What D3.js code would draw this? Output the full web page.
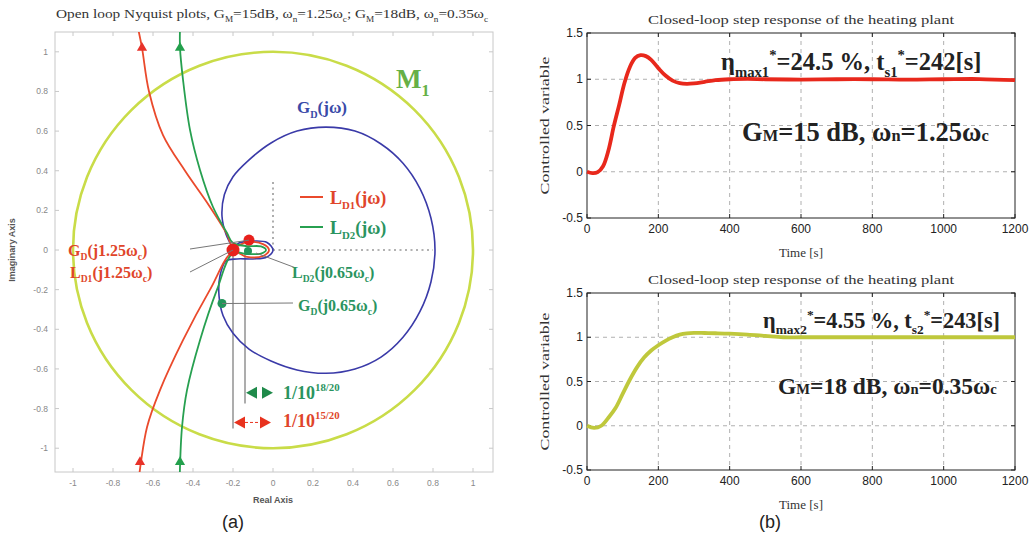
<!DOCTYPE html>
<html><head><meta charset="utf-8">
<script src="https://cdn.jsdelivr.net/npm/d3@7"></script>
<style>body{margin:0;background:#fff}svg{display:block}</style>
</head><body><svg id="c" width="1035" height="537"></svg>
<script>
// ---------------- DATA ----------------
const nyqTicks = [-1,-0.8,-0.6,-0.4,-0.2,0,0.2,0.4,0.6,0.8,1];
const stepXTicks = [0,200,400,600,800,1000,1200];
const stepYTicks = [-0.5,0,0.5,1,1.5];

// M1 circle: centre and radius (Nyquist plane units)
const m1Circle = {re:0, im:0, r:1};

// G_D(jω) open-loop curve [re, im]
const gdCurve = [[-0.2,0.01],[-0.235,0.08],[-0.255,0.17],[-0.243,0.28],[-0.2,0.37],[-0.125,0.45],[-0.01,0.54],
  [0.12,0.6],[0.265,0.62],[0.41,0.6],[0.54,0.535],[0.65,0.438],[0.735,0.31],[0.79,0.16],[0.81,0],
  [0.79,-0.16],[0.735,-0.31],[0.65,-0.44],[0.54,-0.54],[0.41,-0.6],[0.265,-0.622],[0.12,-0.605],
  [-0.01,-0.56],[-0.12,-0.5],[-0.2,-0.42],[-0.25,-0.33],[-0.27,-0.23],[-0.265,-0.13],[-0.235,-0.055],
  [-0.18,-0.045],[-0.1,-0.045],[-0.03,-0.035],[0.0,0],[-0.03,0.038],[-0.1,0.045],[-0.17,0.035],[-0.2,0.01]];

// L_D1(jω)
const ld1Curve = [[-0.675,1.12],[-0.655,1.02],[-0.62,0.8],[-0.55,0.58],[-0.44,0.4],[-0.32,0.225],[-0.23,0.08],
  [-0.2,0.015],[-0.13,0.04],[-0.05,0.03],[-0.02,0],[-0.05,-0.03],[-0.13,-0.035],[-0.2,-0.01],
  [-0.315,-0.2],[-0.45,-0.455],[-0.565,-0.707],[-0.63,-0.894],[-0.668,-1.13]];

// L_D2(jω)
const ld2Curve = [[-0.465,1.12],[-0.465,1.02],[-0.45,0.86],[-0.415,0.606],[-0.365,0.404],[-0.3,0.217],[-0.23,0.086],
  [-0.2,0.035],[-0.13,0.02],[-0.06,0.018],[-0.035,0],[-0.06,-0.018],[-0.13,-0.02],[-0.2,-0.015],
  [-0.28,-0.2],[-0.365,-0.455],[-0.43,-0.707],[-0.455,-0.894],[-0.466,-1.13]];

// direction arrows on L curves [re, im]
const ld1Arrows = [[-0.655,1.02],[-0.665,-1.07]];
const ld2Arrows = [[-0.465,1.02],[-0.465,-1.07]];

// marked frequency points
const redPoints = [{re:-0.2, im:0.0, r:6.5},{re:-0.12, im:0.05, r:5.5}];
const greenPoints = [{re:-0.255, im:-0.27, r:4.5},{re:-0.125, im:-0.005, r:4}];

// gain-margin markers: vertical guide position and bottom
const gm1 = {re:-0.2, bottom:-0.9, arrowIm:-0.87};
const gm2 = {re:-0.14, bottom:-0.775, arrowIm:-0.72};

// Step responses
const stepTime1 = [0,15,30,45,60,75,90,105,120,135,150,165,180,200,220,240,260,280,300,330,360,400,450,500,600,700,800,900,1000,1100,1200];
const resp1 =     [0,-0.015,-0.005,0.06,0.23,0.49,0.72,0.96,1.13,1.23,1.26,1.25,1.21,1.12,1.04,0.985,0.957,0.95,0.955,0.972,0.99,1.0,1.003,1.0,0.997,1.0,1.0,0.996,1.0,1.002,0.99];
const stepTime2 = [0,20,40,60,80,100,120,140,160,180,200,220,240,260,280,300,330,360,400,450,500,550,600,700,800,900,1000,1100,1200];
const resp2 =     [0,-0.025,0.0,0.09,0.2,0.36,0.52,0.66,0.77,0.85,0.91,0.96,1.0,1.03,1.045,1.05,1.048,1.045,1.04,1.03,1.015,1.0,1.0,1.0,1.0,1.0,1.0,1.0,1.0];

// ---------------- HELPERS ----------------
const svg = d3.select("#c");
function rich(g, x, y, parts, size, attrs={}) {
  const t = g.append("text").attr("x",x).attr("y",y).attr("font-size",size);
  Object.entries(attrs).forEach(([k,v])=>t.attr(k,v));
  let off = 0;
  parts.forEach(([s,k])=>{
    const target = k==="sub" ? size*0.28 : k==="sup" ? -size*0.42 : 0;
    const ts = t.append("tspan").text(s).attr("dy", target-off);
    if (k) ts.attr("font-size", size*(k==="sc"?0.62:0.6));
    off = target;
  });
  return t;
}
const SERIF = "'Liberation Serif','DejaVu Serif',serif";
const SANS = "'Liberation Sans',Arial,sans-serif";

// ---------------- LEFT: NYQUIST ----------------
const xN = d3.scaleLinear().domain([-1.09,1.1]).range([55,493]);
const yN = d3.scaleLinear().domain([-1.12,1.1]).range([472,32]);
const gL = svg.append("g");

rich(gL, 56, 18, [["Open loop Nyquist plots, G",""],["M","sub"],["=15dB, ω",""],["n","sub"],["=1.25ω",""],["c","sub"],
  ["; G",""],["M","sub"],["=18dB, ω",""],["n","sub"],["=0.35ω",""],["c","sub"]], 13.5,
  {"font-family":SERIF, fill:"#333", textLength:432, lengthAdjust:"spacingAndGlyphs"});

const clipId = "nclip";
svg.append("defs").append("clipPath").attr("id",clipId).append("rect")
  .attr("x",55).attr("y",32).attr("width",438).attr("height",440);

gL.append("rect").attr("x",55).attr("y",32).attr("width",438).attr("height",440)
  .attr("fill","none").attr("stroke","#c8c8c8").attr("stroke-width",1);
nyqTicks.forEach(v=>{
  gL.append("line").attr("x1",xN(v)).attr("x2",xN(v)).attr("y1",472).attr("y2",468).attr("stroke","#c8c8c8");
  gL.append("line").attr("x1",xN(v)).attr("x2",xN(v)).attr("y1",32).attr("y2",36).attr("stroke","#c8c8c8");
  gL.append("line").attr("y1",yN(v)).attr("y2",yN(v)).attr("x1",55).attr("x2",59).attr("stroke","#c8c8c8");
  gL.append("line").attr("y1",yN(v)).attr("y2",yN(v)).attr("x1",493).attr("x2",489).attr("stroke","#c8c8c8");
});
const fmtN = d=>String(+d.toFixed(1));
gL.selectAll(".xt").data(nyqTicks).join("text").attr("x",d=>xN(d)).attr("y",486)
  .attr("text-anchor","middle").attr("font-size",8.5).attr("font-family",SANS).attr("fill","#888").text(fmtN);
gL.selectAll(".yt").data(nyqTicks).join("text").attr("x",48).attr("y",d=>yN(d)+3)
  .attr("text-anchor","end").attr("font-size",8.5).attr("font-family",SANS).attr("fill","#888").text(fmtN);
gL.append("text").attr("transform","translate(15,250) rotate(-90)").attr("text-anchor","middle")
  .attr("font-size",9).attr("font-weight","bold").attr("font-family",SANS).attr("fill","#555").text("Imaginary Axis");
gL.append("text").attr("x",273).attr("y",503).attr("text-anchor","middle")
  .attr("font-size",9).attr("font-weight","bold").attr("font-family",SANS).attr("fill","#555").text("Real Axis");

const plot = gL.append("g").attr("clip-path",`url(#${clipId})`);
plot.append("ellipse").attr("cx",xN(m1Circle.re)).attr("cy",yN(m1Circle.im))
  .attr("rx",xN(m1Circle.r)-xN(0)).attr("ry",yN(0)-yN(m1Circle.r))
  .attr("fill","none").attr("stroke","#c9dc48").attr("stroke-width",2.6);

plot.append("line").attr("x1",xN(0)).attr("x2",xN(0.8)).attr("y1",yN(0)).attr("y2",yN(0))
  .attr("stroke","#999").attr("stroke-width",1.6).attr("stroke-dasharray","2,3.5");
plot.append("line").attr("x1",xN(0)).attr("x2",xN(0)).attr("y1",yN(0)).attr("y2",yN(0.36))
  .attr("stroke","#999").attr("stroke-width",1.6).attr("stroke-dasharray","2,3.5");

[gm1,gm2].forEach(g=>{
  plot.append("line").attr("x1",xN(g.re)).attr("x2",xN(g.re)).attr("y1",yN(0)).attr("y2",yN(g.bottom))
    .attr("stroke","#999").attr("stroke-width",1.6);
});

const lineN = d3.line().x(d=>xN(d[0])).y(d=>yN(d[1])).curve(d3.curveCatmullRom.alpha(0.5));
plot.append("path").attr("d",lineN(gdCurve)).attr("fill","none").attr("stroke","#3a3aa8").attr("stroke-width",1.6);
plot.append("path").attr("d",lineN(ld1Curve)).attr("fill","none").attr("stroke","#ea4a2c").attr("stroke-width",1.8);
plot.append("path").attr("d",lineN(ld2Curve)).attr("fill","none").attr("stroke","#27a050").attr("stroke-width",1.8);

const tri = d3.symbol(d3.symbolTriangle, 45);
ld1Arrows.forEach(p=>plot.append("path").attr("d",tri()).attr("transform",`translate(${xN(p[0])},${yN(p[1])})`).attr("fill","#e8322a"));
ld2Arrows.forEach(p=>plot.append("path").attr("d",tri()).attr("transform",`translate(${xN(p[0])},${yN(p[1])})`).attr("fill","#23a04c"));

const lead = (x1,y1,x2,y2)=>gL.append("line").attr("x1",x1).attr("y1",y1).attr("x2",x2).attr("y2",y2)
  .attr("stroke","#777").attr("stroke-width",1);
lead(190,249,xN(redPoints[1].re),yN(redPoints[1].im));
lead(190,272,xN(redPoints[0].re),yN(redPoints[0].im));
lead(296,268,xN(greenPoints[1].re)+8,yN(greenPoints[1].im)+2);
lead(293,303,xN(greenPoints[0].re),yN(greenPoints[0].im));

redPoints.forEach(p=>plot.append("circle").attr("cx",xN(p.re)).attr("cy",yN(p.im)).attr("r",p.r).attr("fill","#e8201c"));
greenPoints.forEach(p=>plot.append("circle").attr("cx",xN(p.re)).attr("cy",yN(p.im)).attr("r",p.r).attr("fill","#22955a"));

function dblArrow(g, x1, x2, y, col, dashed) {
  const h = 6, w = 11;
  g.append("path").attr("d",`M${x1},${y} L${x1+w},${y-h} L${x1+w},${y+h} Z`).attr("fill",col);
  g.append("path").attr("d",`M${x2},${y} L${x2-w},${y-h} L${x2-w},${y+h} Z`).attr("fill",col);
  if (dashed) g.append("line").attr("x1",x1+w).attr("x2",x2-w).attr("y1",y).attr("y2",y)
     .attr("stroke",col).attr("stroke-width",1).attr("stroke-dasharray","3,2");
}
dblArrow(gL, xN(gm2.re)+1, xN(0), yN(gm2.arrowIm), "#1f8a4a", false);
dblArrow(gL, xN(gm1.re)+1, xN(-0.01), yN(gm1.arrowIm), "#e8321e", true);

const REDL = "#e0452a", GRNL = "#2a9460";
rich(gL, 283, 399, [["1/10",""],["18/20","sup"]], 18, {"font-family":SERIF,"font-weight":"bold",fill:GRNL});
rich(gL, 283, 427, [["1/10",""],["15/20","sup"]], 18, {"font-family":SERIF,"font-weight":"bold",fill:REDL});

gL.append("line").attr("x1",300).attr("x2",323).attr("y1",197).attr("y2",197).attr("stroke","#ea4a2c").attr("stroke-width",2);
gL.append("line").attr("x1",300).attr("x2",323).attr("y1",227).attr("y2",227).attr("stroke","#27a050").attr("stroke-width",2);
rich(gL, 330, 204, [["L",""],["D1","sub"],["(jω)",""]], 18, {"font-family":SERIF,"font-weight":"bold",fill:REDL});
rich(gL, 330, 234, [["L",""],["D2","sub"],["(jω)",""]], 18, {"font-family":SERIF,"font-weight":"bold",fill:GRNL});

rich(gL, 68, 256, [["G",""],["D","sub"],["(j1.25ω",""],["c","sub"],[")",""]], 16, {"font-family":SERIF,"font-weight":"bold",fill:REDL});
rich(gL, 70, 278, [["L",""],["D1","sub"],["(j1.25ω",""],["c","sub"],[")",""]], 16, {"font-family":SERIF,"font-weight":"bold",fill:REDL});
rich(gL, 292, 278, [["L",""],["D2","sub"],["(j0.65ω",""],["c","sub"],[")",""]], 16, {"font-family":SERIF,"font-weight":"bold",fill:GRNL});
rich(gL, 298, 311, [["G",""],["D","sub"],["(j0.65ω",""],["c","sub"],[")",""]], 16, {"font-family":SERIF,"font-weight":"bold",fill:GRNL});
rich(gL, 297, 113, [["G",""],["D","sub"],["(jω)",""]], 17, {"font-family":SERIF,"font-weight":"bold",fill:"#3a4aa8"});
rich(gL, 396, 88, [["M",""],["1","sub"]], 27, {"font-family":SERIF,"font-weight":"bold",fill:"#66b046"});

svg.append("text").attr("x",233).attr("y",528).attr("text-anchor","middle").attr("font-size",18)
  .attr("font-family",SANS).attr("fill","#222").text("(a)");
svg.append("text").attr("x",770).attr("y",528).attr("text-anchor","middle").attr("font-size",18)
  .attr("font-family",SANS).attr("fill","#222").text("(b)");

// ---------------- RIGHT: STEP RESPONSES ----------------
const xS = d3.scaleLinear().domain([0,1200]).range([587,1015]);
function stepPanel(top, bottom, times, vals, color, ann1, ann2, ann1Pos, ann2Pos) {
  const yS = d3.scaleLinear().domain([-0.5,1.5]).range([bottom,top]);
  const g = svg.append("g");
  stepXTicks.slice(1,-1).forEach(v=>g.append("line").attr("x1",xS(v)).attr("x2",xS(v)).attr("y1",top).attr("y2",bottom)
    .attr("stroke","#b0b0b0").attr("stroke-dasharray","4,4"));
  stepYTicks.slice(1,-1).forEach(v=>g.append("line").attr("y1",yS(v)).attr("y2",yS(v)).attr("x1",587).attr("x2",1015)
    .attr("stroke","#b0b0b0").attr("stroke-dasharray","4,4"));
  g.append("rect").attr("x",587).attr("y",top).attr("width",428).attr("height",bottom-top)
    .attr("fill","none").attr("stroke","#222").attr("stroke-width",1);
  stepXTicks.forEach(v=>{
    g.append("line").attr("x1",xS(v)).attr("x2",xS(v)).attr("y1",bottom).attr("y2",bottom-4).attr("stroke","#222");
    g.append("line").attr("x1",xS(v)).attr("x2",xS(v)).attr("y1",top).attr("y2",top+4).attr("stroke","#222");
  });
  stepYTicks.forEach(v=>{
    g.append("line").attr("y1",yS(v)).attr("y2",yS(v)).attr("x1",587).attr("x2",591).attr("stroke","#222");
    g.append("line").attr("y1",yS(v)).attr("y2",yS(v)).attr("x1",1015).attr("x2",1011).attr("stroke","#222");
  });
  g.selectAll(".sx").data(stepXTicks).join("text").attr("x",d=>xS(d)).attr("y",bottom+15)
    .attr("text-anchor","middle").attr("font-size",12).attr("font-family",SANS).attr("fill","#222").text(d=>d);
  g.selectAll(".sy").data(stepYTicks).join("text").attr("x",583).attr("y",d=>yS(d)+4)
    .attr("text-anchor","end").attr("font-size",12).attr("font-family",SANS).attr("fill","#222").text(d=>String(d));
  g.append("text").attr("x",801).attr("y",top-9).attr("text-anchor","middle").attr("font-size",13)
    .attr("font-family",SERIF).attr("fill","#333").attr("textLength",306).attr("lengthAdjust","spacingAndGlyphs")
    .text("Closed-loop step response of the heating plant");
  g.append("text").attr("x",801).attr("y",bottom+39).attr("text-anchor","middle").attr("font-size",13)
    .attr("font-family",SERIF).attr("fill","#333").text("Time [s]");
  g.append("text").attr("transform",`translate(549,${(top+bottom)/2}) rotate(-90)`).attr("text-anchor","middle")
    .attr("font-size",13.5).attr("font-family",SERIF).attr("fill","#333").attr("textLength",138)
    .attr("lengthAdjust","spacingAndGlyphs").text("Controlled variable");
  const ln = d3.line().x((d,i)=>xS(times[i])).y(d=>yS(d)).curve(d3.curveCatmullRom.alpha(0.5));
  g.append("path").attr("d",ln(vals)).attr("fill","none").attr("stroke",color).attr("stroke-width",3.8);
  rich(g, ann1Pos[0], ann1Pos[1], ann1, ann1Pos[2], {"font-family":SERIF,"font-weight":"bold",fill:"#222"});
  rich(g, ann2Pos[0], ann2Pos[1], ann2, ann2Pos[2], {"font-family":SERIF,"font-weight":"bold",fill:"#222"});
}
stepPanel(33, 218, stepTime1, resp1, "#e8281c",
  [["η",""],["max1","sub"],["*","sup"],["=24.5 %, t",""],["s1","sub"],["*","sup"],["=242[s]",""]],
  [["G",""],["M","sc"],["=15 dB, ω",""],["n","sc"],["=1.25ω",""],["c","sc"]],
  [721,70,24.5],[742,141,26.5]);
stepPanel(293, 470, stepTime2, resp2, "#bfc83c",
  [["η",""],["max2","sub"],["*","sup"],["=4.55 %, t",""],["s2","sub"],["*","sup"],["=243[s]",""]],
  [["G",""],["M","sc"],["=18 dB, ω",""],["n","sc"],["=0.35ω",""],["c","sc"]],
  [763,328,22.3],[778,394,23.5]);
</script></body></html>
